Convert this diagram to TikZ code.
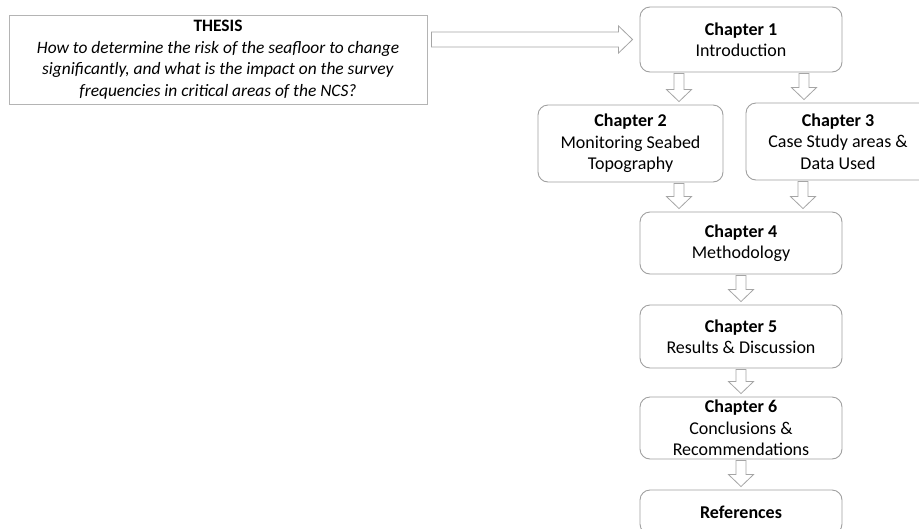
\documentclass[tikz,border=0pt]{standalone}
\usepackage{fontspec}
\setmainfont{Carlito}
\usetikzlibrary{calc}
\definecolor{boxgray}{RGB}{160,160,160}
\definecolor{thesisgray}{RGB}{180,180,180}
\definecolor{arrowgray}{RGB}{165,165,165}
\tikzset{
  chapbox/.style={draw=boxgray, line width=0.9pt, rounded corners=10pt, align=center,
    inner sep=0pt, font=\fontsize{18pt}{21.5pt}\selectfont},
  thesisbox/.style={draw=thesisgray, line width=0.9pt, align=center, inner sep=0pt,
    font=\fontsize{17.4pt}{21.5pt}\selectfont},
  blk/.style={draw=arrowgray, line width=0.8pt, fill=white, line join=miter}
}
\newcommand\vblock[3]{%
  \draw[blk] let \p1=#2, \p2=#3 in
    (#1pt-5pt,\y1-1pt) -- (#1pt+5pt,\y1-1pt) -- (#1pt+5pt,\y2+15pt) --
    (#1pt+12.5pt,\y2+15pt) -- (#1pt,\y2+3pt) -- (#1pt-12.5pt,\y2+15pt) --
    (#1pt-5pt,\y2+15pt) -- cycle;}
\begin{document}
\begin{tikzpicture}[x=1pt,y=-1pt]
\useasboundingbox (0,0) rectangle (919,528);
\clip (0,0) rectangle (919,528);
\fill[white] (0,0) rectangle (919,528);

\node[thesisbox, minimum width=418, minimum height=89] (thesis) at (218,59.5)
  {\textbf{THESIS}\\ \textit{How to determine the risk of the seafloor to change}\\
   \textit{significantly, and what is the impact on the survey}\\
   \textit{frequencies in critical areas of the NCS?}};

\node[chapbox, minimum width=202, minimum height=65] (c1) at (741,39.5)
  {\textbf{Chapter 1}\\Introduction};
\node[chapbox, minimum width=185, minimum height=77] (c2) at (630.5,143.5)
  {\textbf{Chapter 2}\\Monitoring Seabed\\Topography};
\node[chapbox, minimum width=184, minimum height=77] (c3) at (838,141.5)
  {\textbf{Chapter 3}\\Case Study areas \&\\Data Used};
\node[chapbox, minimum width=202, minimum height=62] (c4) at (741,243)
  {\textbf{Chapter 4}\\Methodology};
\node[chapbox, minimum width=202, minimum height=63] (c5) at (741,336.5)
  {\textbf{Chapter 5}\\Results \& Discussion};
\node[chapbox, minimum width=202, minimum height=62] (c6) at (741,428)
  {\textbf{Chapter 6}\\Conclusions \&\\Recommendations};
\node[chapbox, minimum width=202, minimum height=44] (refs) at (741,512)
  {\textbf{References}};

% big arrow thesis -> chapter 1
\draw[blk] let \p1=(thesis.east), \p2=(c1.west) in
  (\x1+4pt,\y2+7.5pt) -- (\x2-21pt,\y2+7.5pt) -- (\x2-21pt,\y2+13.5pt) --
  (\x2-7pt,\y2) -- (\x2-21pt,\y2-13.5pt) -- (\x2-21pt,\y2-7.5pt) --
  (\x1+4pt,\y2-7.5pt) -- cycle;

\vblock{679}{(c1.south)}{(c2.north)}
\vblock{804}{(c1.south)}{(c3.north)}
\vblock{679}{(c2.south)}{(c4.north)}
\vblock{803}{(c3.south)}{(c4.north)}
\vblock{741}{(c4.south)}{(c5.north)}
\vblock{741}{(c5.south)}{(c6.north)}
\vblock{741}{(c6.south)}{(refs.north)}
\end{tikzpicture}
\end{document}
